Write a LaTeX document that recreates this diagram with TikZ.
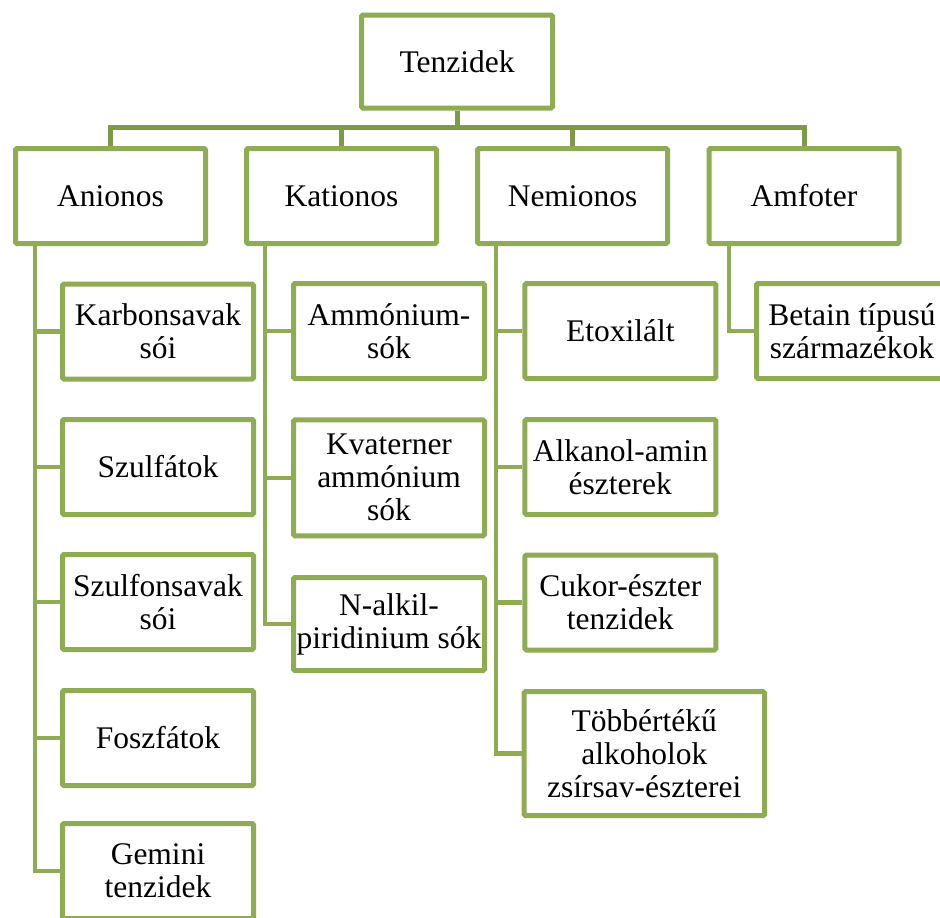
\documentclass[tikz,border=0pt]{standalone}
\usepackage{fontspec}
\setmainfont{Liberation Serif}
\usepackage{xcolor}
\definecolor{boxgreen}{HTML}{8FAB53}
\definecolor{bargreen}{HTML}{7F9A47}
\tikzset{
    tbox/.style = {
        draw            = boxgreen,
        line width      = 5pt,
        fill            = white,
        rounded corners = 1.5pt,
        minimum width   = 191pt,
        minimum height  = 95pt,
        inner sep       = 0pt,
        align           = center,
        font            = \rmfamily\fontsize{31.5}{33}\selectfont,
    },
    conn/.style = {
        draw       = boxgreen,
        line width = 4.5pt,
    },
    topline/.style = {
        draw       = bargreen,
        line width = 5pt,
    }
}

\begin{document}
\begin{tikzpicture}[x=1pt,y=-1pt]
  \useasboundingbox (0,0) rectangle (940,918);
  \clip (0,0) rectangle (940,918);

  % Root
  \node[tbox,minimum height=93pt] (Tenzidek) at (457,61.5) {Tenzidek};

  % Tier 1
  \node[tbox,minimum width=190pt] (Anionos) at (110.5,196) {Anionos};
  \node[tbox,minimum width=190pt] (Kationos) at (341.5,196) {Kationos};
  \node[tbox,minimum width=190pt] (Nemionos) at (572.5,196) {Nemionos};
  \node[tbox,minimum width=190pt] (Amfoter) at (804,196) {Amfoter};

  \draw[topline] (Tenzidek.south) -- ++(0,17) -| (Anionos.north);
  \draw[topline] (Tenzidek.south) -- ++(0,17) -| (Kationos.north);
  \draw[topline] (Tenzidek.south) -- ++(0,17) -| (Nemionos.north);
  \draw[topline] (Tenzidek.south) -- ++(0,17) -| (Amfoter.north);

  % Anionos
  \node[tbox] (Karbonsavak) at (158,331.5) {Karbonsavak\\sói};
  \node[tbox] (Szulfatok) at (158,467) {Szulfátok};
  \node[tbox] (Szulfonsavak) at (158,602) {Szulfonsavak\\sói};
  \node[tbox] (Foszfatok) at (158,738) {Foszfátok};
  \node[tbox] (Gemini) at (158,871) {Gemini\\tenzidek};

  \draw[conn] ([xshift=22pt]Anionos.south west) |- (Karbonsavak.west);
  \draw[conn] ([xshift=22pt]Anionos.south west) |- (Szulfatok.west);
  \draw[conn] ([xshift=22pt]Anionos.south west) |- (Szulfonsavak.west);
  \draw[conn] ([xshift=22pt]Anionos.south west) |- (Foszfatok.west);
  \draw[conn] ([xshift=22pt]Anionos.south west) |- (Gemini.west);

  % Kationos
  \node[tbox] (Ammonium) at (389,331) {Ammónium-\\sók};
  \node[tbox,minimum height=116pt] (Kvaterner) at (389,477.8) {Kvaterner\\ammónium\\sók};
  \node[tbox,minimum height=93pt] (Piridinium) at (389,624) {N-alkil-\\piridinium sók};

  \draw[conn] ([xshift=21pt]Kationos.south west) |- (Ammonium.west);
  \draw[conn] ([xshift=21pt]Kationos.south west) |- (Kvaterner.west);
  \draw[conn] ([xshift=21pt]Kationos.south west) |- (Piridinium.west);

  % Nemionos
  \node[tbox] (Etoxilalt) at (620.3,331) {Etoxilált};
  \node[tbox] (Alkanolamin) at (620.3,467) {Alkanol-amin\\észterek};
  \node[tbox] (Cukoreszter) at (620.3,602.5) {Cukor-észter\\tenzidek};
  \node[tbox,minimum width=240.5pt,minimum height=124pt] (Tobbertekű) at (644.3,753.7) {Többértékű\\alkoholok\\zsírsav-észterei};

  \draw[conn] ([xshift=21pt]Nemionos.south west) |- (Etoxilalt.west);
  \draw[conn] ([xshift=21pt]Nemionos.south west) |- (Alkanolamin.west);
  \draw[conn] ([xshift=21pt]Nemionos.south west) |- (Cukoreszter.west);
  \draw[conn] ([xshift=21pt]Nemionos.south west) |- (Tobbertekű.west);

  % Amfoter
  \node[tbox] (Betain) at (852,331) {Betain típusú\\származékok};

  \draw[conn] ([xshift=22.5pt]Amfoter.south west) |- (Betain.west);
\end{tikzpicture}
\end{document}
